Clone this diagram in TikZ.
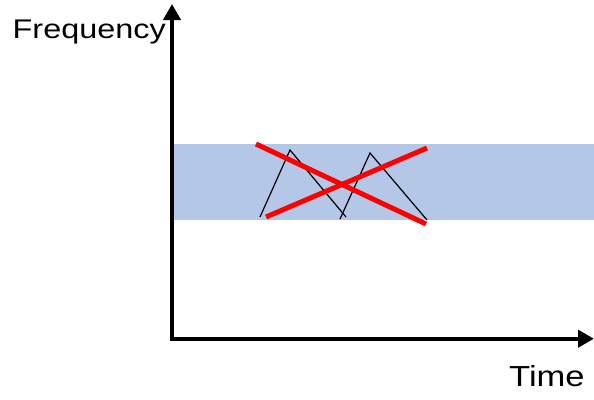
\documentclass[tikz,border=0pt]{standalone}
\usepackage{fontspec}
\setmainfont{Liberation Sans}
\usetikzlibrary{arrows.meta}
\definecolor{bandblue}{HTML}{B4C7E7}
\begin{document}
\begin{tikzpicture}[x=1pt,y=-1pt,
  axis/.style={line width=4pt, line join=miter, {Triangle[length=16pt,width=17pt]}-{Triangle[length=16pt,width=17pt]}},
  band/.style={fill=bandblue, draw=none},
  signal/.style={line width=1.2pt, black},
  cross/.style={line width=5pt, red},
  lbl/.style={inner sep=0pt, anchor=base west}]
\useasboundingbox (0,0) rectangle (594,399);
% band
\fill[band] (172,144) rectangle (594,220);
% signal
\coordinate (s1) at (260,217);
\coordinate (s2) at (290,150);
\coordinate (s3) at (346,217);
\coordinate (s4) at (340,219);
\coordinate (s5) at (370,153);
\coordinate (s6) at (427,220);
\draw[signal] (s1) -- (s2) -- (s3);
\draw[signal] (s4) -- (s5) -- (s6);
% cross
\coordinate (c1) at (256,144);
\coordinate (c2) at (426,224);
\coordinate (c3) at (266,217);
\coordinate (c4) at (427,148);
\draw[cross] (c1) -- (c2);
\draw[cross] (c3) -- (c4);
% axes
\coordinate (ytip) at (172,4);
\coordinate (O) at (172,338.7);
\coordinate (xtip) at (594,338.7);
\draw[axis] (ytip) -- (O) -- (xtip);
% labels
\node[lbl, font=\fontsize{27}{30}\selectfont] (freq) at (12.5,38.3) {\scalebox{1.2}[1]{Frequency}};
\node[lbl, font=\fontsize{29}{32}\selectfont] (time) at (509,386.7) {\scalebox{1.19}[1]{Time}};
\end{tikzpicture}
\end{document}
